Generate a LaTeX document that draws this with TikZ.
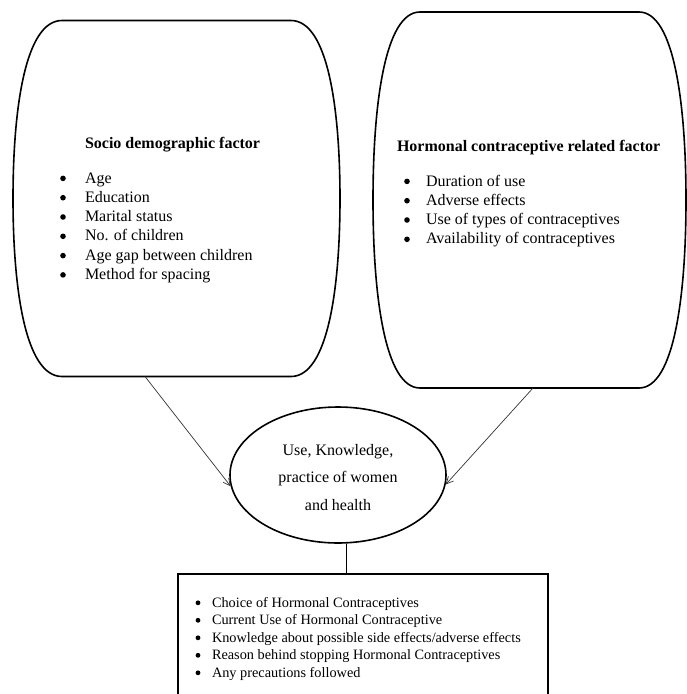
\documentclass[tikz,border=0pt]{standalone}
\usepackage{fontspec}
\setmainfont{Liberation Serif}
\usetikzlibrary{arrows.meta,shapes.geometric}
% barrel outline: xL, xR, top, bottom, corner width
\newcommand\barrelpath[5]{%
  \draw[outline] ({#1+#5},#3) -- ({#2-#5},#3)
    .. controls ({#2-0.245*#5},#3) and (#2,{#3+0.25*(#4-#3)}) .. (#2,{(#3+#4)/2})
    .. controls (#2,{#4-0.25*(#4-#3)}) and ({#2-0.245*#5},#4) .. ({#2-#5},#4)
    -- ({#1+#5},#4)
    .. controls ({#1+0.245*#5},#4) and (#1,{#4-0.25*(#4-#3)}) .. (#1,{(#3+#4)/2})
    .. controls (#1,{#3+0.25*(#4-#3)}) and ({#1+0.245*#5},#3) .. ({#1+#5},#3) -- cycle;}
\begin{document}
\begin{tikzpicture}[x=1pt,y=-1pt,
  outline/.style={line width=1.6pt,black},
  conn/.style={line width=0.7pt,black!80,-{Straight Barb[length=7pt,width=7pt]}},
  plain/.style={inner sep=0pt,outer sep=0pt},
  head/.style={plain,anchor=base west,font=\fontsize{16}{19.3}\selectfont\bfseries},
  list/.style={plain,anchor=base west,font=\fontsize{16}{19.3}\selectfont},
  boxlist/.style={plain,anchor=base west,font=\fontsize{14.3}{17.5}\selectfont},
  dot/.style={fill=black}]
\useasboundingbox (0,0) rectangle (687,694);
\clip (0,0) rectangle (687,694);

% left factor shape
\barrelpath{13}{340}{20.5}{376.5}{49}
\node[plain,minimum width=327,minimum height=356] (socio) at (176.5,198.5) {};
\node[head] (sociohead) at (85,148) {Socio demographic factor};
\node[list] (sociolist) at (85,183) {\begin{tabular}[t]{@{}l@{}}
Age\\ Education\\ Marital status\\ No. of children\\ Age gap between children\\ Method for spacing
\end{tabular}};
\foreach \k in {0,...,5} \fill[dot] (63,{178.4+19.3*\k}) circle (2.8pt);
\coordinate (sociob) at (145,376.5);

% right factor shape
\barrelpath{373}{686}{12}{388}{47}
\node[plain,minimum width=313,minimum height=376] (hormo) at (529.5,200) {};
\node[head] (hormohead) at (397,151) {Hormonal contraceptive related factor};
\node[list] (hormolist) at (426,186) {\begin{tabular}[t]{@{}l@{}}
Duration of use\\ Adverse effects\\ Use of types of contraceptives\\ Availability of contraceptives
\end{tabular}};
\foreach \k in {0,...,3} \fill[dot] (407,{181.4+19.3*\k}) circle (2.8pt);
\coordinate (hormob) at (533,388);

% central ellipse
\node[draw,ellipse,outline,minimum width=216,minimum height=136,inner sep=0pt] (ell) at (338,475) {};
\node[plain,align=center,font=\fontsize{16}{27.5}\selectfont] (elltext) at (338,477.5)
  {Use, Knowledge,\\practice of women\\and health};

% outcome box
\node[draw,outline,anchor=north west,minimum width=370,minimum height=150,inner sep=0pt] (out) at (177,573) {};
\node[boxlist] (outlist) at (212,607) {\begin{tabular}[t]{@{}l@{}}
Choice of Hormonal Contraceptives\\
Current Use of Hormonal Contraceptive\\
Knowledge about possible side effects/adverse effects\\
Reason behind stopping Hormonal Contraceptives\\
Any precautions followed
\end{tabular}};
\foreach \k in {0,...,4} \fill[dot] (198,{602.8+17.5*\k}) circle (2.4pt);

% connectors
\draw[conn] (sociob) -- (ell.186);
\draw[conn] (hormob) -- (ell.-5);
\coordinate (lx) at (346,0);
\draw[line width=0.8pt] (ell.south -| lx) -- (out.north -| lx);
\end{tikzpicture}
\end{document}
